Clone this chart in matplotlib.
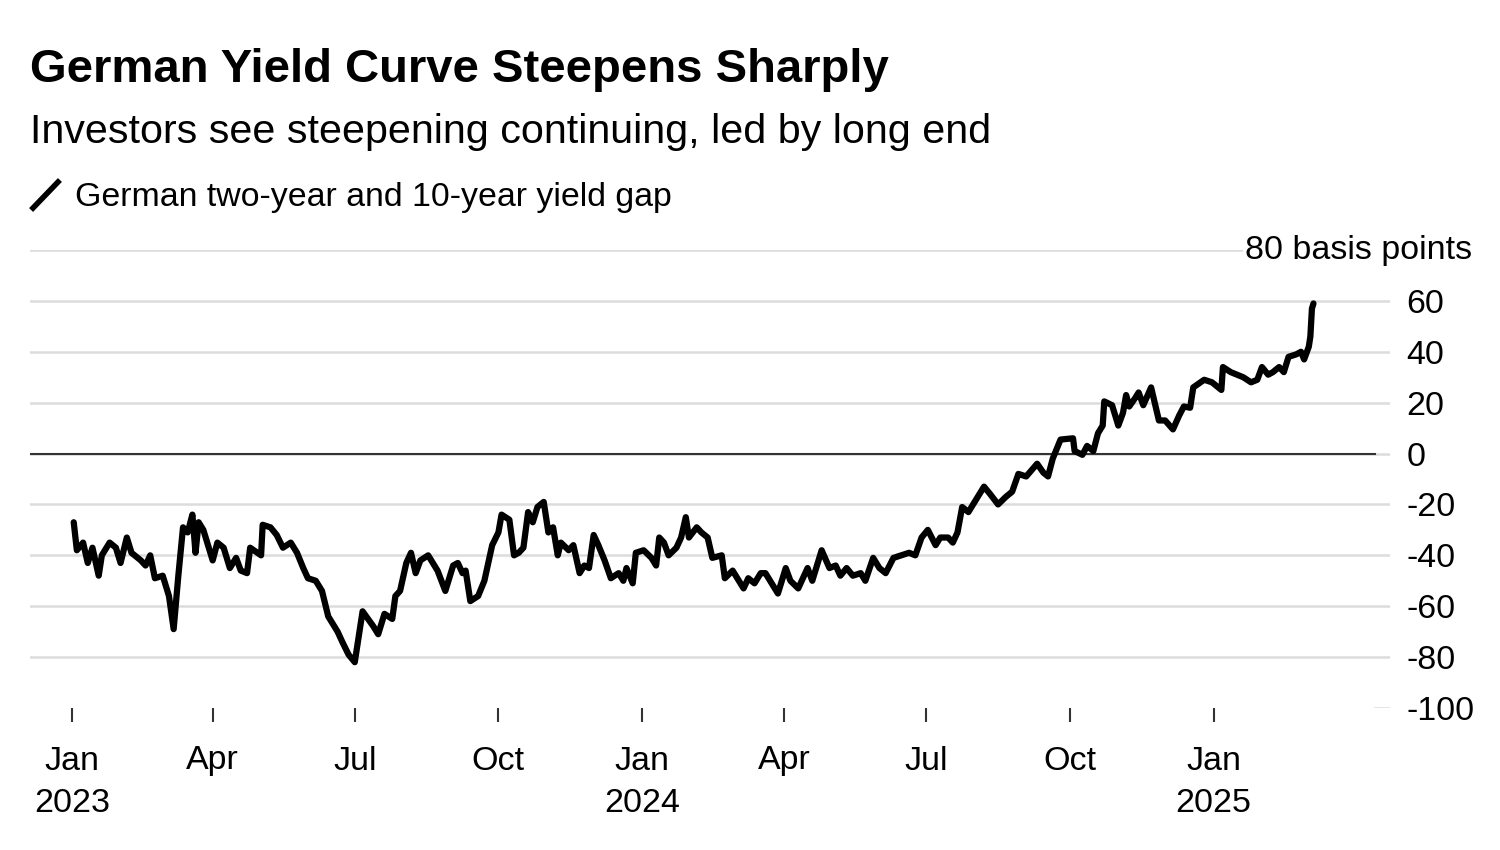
import pandas as pd
import matplotlib.pyplot as plt
from matplotlib.lines import Line2D

plt.rcParams['font.family'] = ['Liberation Sans', 'DejaVu Sans']

# German 2y/10y yield gap, basis points
dates = [
    "2023-01-02", "2023-01-04", "2023-01-08", "2023-01-11", "2023-01-14", "2023-01-18", "2023-01-20", "2023-01-25", "2023-01-29", "2023-02-01",
    "2023-02-05", "2023-02-08", "2023-02-14", "2023-02-17", "2023-02-20", "2023-02-23", "2023-02-28", "2023-03-04", "2023-03-07", "2023-03-10",
    "2023-03-13", "2023-03-16", "2023-03-19", "2023-03-21", "2023-03-23", "2023-03-26", "2023-04-01", "2023-04-04", "2023-04-08", "2023-04-12",
    "2023-04-16", "2023-04-19", "2023-04-23", "2023-04-25", "2023-05-02", "2023-05-03", "2023-05-08", "2023-05-12", "2023-05-16", "2023-05-21",
    "2023-05-25", "2023-05-29", "2023-06-01", "2023-06-06", "2023-06-10", "2023-06-14", "2023-06-20", "2023-06-23", "2023-06-27", "2023-07-01",
    "2023-07-06", "2023-07-13", "2023-07-16", "2023-07-20", "2023-07-25", "2023-07-27", "2023-07-30", "2023-08-03", "2023-08-06", "2023-08-09",
    "2023-08-12", "2023-08-17", "2023-08-23", "2023-08-28", "2023-09-02", "2023-09-05", "2023-09-08", "2023-09-10", "2023-09-13", "2023-09-18",
    "2023-09-22", "2023-09-27", "2023-10-01", "2023-10-03", "2023-10-08", "2023-10-11", "2023-10-14", "2023-10-17", "2023-10-20", "2023-10-23",
    "2023-10-26", "2023-10-30", "2023-11-02", "2023-11-05", "2023-11-08", "2023-11-10", "2023-11-15", "2023-11-18", "2023-11-22", "2023-11-25",
    "2023-11-28", "2023-12-01", "2023-12-04", "2023-12-08", "2023-12-12", "2023-12-17", "2023-12-20", "2023-12-22", "2023-12-26", "2023-12-28",
    "2024-01-02", "2024-01-07", "2024-01-10", "2024-01-12", "2024-01-15", "2024-01-18", "2024-01-23", "2024-01-26", "2024-01-29", "2024-01-31",
    "2024-02-05", "2024-02-08", "2024-02-12", "2024-02-15", "2024-02-21", "2024-02-23", "2024-02-28", "2024-03-02", "2024-03-06", "2024-03-09",
    "2024-03-13", "2024-03-17", "2024-03-20", "2024-03-24", "2024-03-28", "2024-04-02", "2024-04-05", "2024-04-10", "2024-04-16", "2024-04-19",
    "2024-04-25", "2024-04-30", "2024-05-04", "2024-05-07", "2024-05-11", "2024-05-15", "2024-05-20", "2024-05-23", "2024-05-28", "2024-06-01",
    "2024-06-05", "2024-06-10", "2024-06-15", "2024-06-20", "2024-06-24", "2024-06-28", "2024-07-02", "2024-07-07", "2024-07-10", "2024-07-15",
    "2024-07-18", "2024-07-21", "2024-07-24", "2024-07-28", "2024-08-02", "2024-08-07", "2024-08-11", "2024-08-16", "2024-08-21", "2024-08-25",
    "2024-08-29", "2024-09-03", "2024-09-10", "2024-09-14", "2024-09-17", "2024-09-20", "2024-09-25", "2024-10-03", "2024-10-04", "2024-10-09",
    "2024-10-12", "2024-10-16", "2024-10-19", "2024-10-22", "2024-10-23", "2024-10-28", "2024-11-01", "2024-11-04", "2024-11-06", "2024-11-08",
    "2024-11-12", "2024-11-14", "2024-11-17", "2024-11-22", "2024-11-27", "2024-12-01", "2024-12-06", "2024-12-10", "2024-12-13", "2024-12-17",
    "2024-12-19", "2024-12-26", "2024-12-31",
    "2025-01-06", "2025-01-07", "2025-01-12", "2025-01-16", "2025-01-20", "2025-01-25", "2025-01-29", "2025-02-01", "2025-02-05", "2025-02-08",
    "2025-02-12", "2025-02-15", "2025-02-18", "2025-02-23", "2025-02-26", "2025-02-28", "2025-03-03", "2025-03-04", "2025-03-05", "2025-03-06",
]
spread = [
    -27, -38, -35, -43, -37, -48, -40, -35, -37, -43,
    -33, -39, -42, -44, -40, -49, -48, -56, -69, -48,
    -29, -31, -24, -39, -27, -30, -42, -35, -37, -45,
    -41, -46, -47, -37, -40, -28, -29, -32, -37, -35,
    -39, -45, -49, -50, -54, -64, -70, -74, -79, -82,
    -62, -68, -71, -63, -65, -56, -54, -43, -39, -47,
    -42, -40, -46, -54, -44, -43, -47, -46, -58, -56,
    -50, -36, -31, -24, -26, -40, -39, -37, -23, -27,
    -21, -19, -31, -29, -40, -35, -38, -36, -47, -44,
    -45, -32, -36, -42, -49, -47, -50, -45, -51, -39,
    -38, -41, -44, -33, -35, -40, -37, -33, -25, -33,
    -29, -31, -33, -41, -40, -49, -46, -49, -53, -49,
    -51, -47, -47, -51, -55, -45, -50, -53, -45, -50,
    -38, -45, -44, -48, -45, -48, -47, -50, -41, -45,
    -47, -41, -40, -39, -40, -33, -30, -36, -33, -33,
    -35, -31, -21, -23, -18, -13, -16, -20, -17, -15,
    -8, -9, -4, -7.5, -9, -2, 5.5, 6, 1, -0.5,
    3, 1, 8, 11, 20.5, 19, 11, 16, 23, 18.5,
    22, 24, 19, 26, 13, 13, 9.5, 15, 18.5, 18,
    26, 29, 28,
    25, 34, 32, 31, 30, 28, 29, 34, 31, 32,
    34, 32, 38, 39, 40, 37, 42, 46, 57, 59,
]

tick_dates = ["2023-01-01", "2023-04-01", "2023-07-01", "2023-10-01", "2024-01-01",
              "2024-04-01", "2024-07-01", "2024-10-01", "2025-01-01"]
tick_labels = ["Jan\n2023", "Apr", "Jul", "Oct", "Jan\n2024", "Apr", "Jul", "Oct", "Jan\n2025"]
y_ticks = [-100, -80, -60, -40, -20, 0, 20, 40, 60]

df = pd.DataFrame({"date": pd.to_datetime(dates), "spread": spread})

fig = plt.figure(figsize=(15, 8.5), dpi=100)
ax = fig.add_axes([30/1500, 142/850, 1360/1500, 458/850])

# gridlines
for v in [-80, -60, -40, -20, 0, 20, 40, 60, 80]:
    ax.axhline(v, color='#dcdcdc', lw=1.8, zorder=1)
ax.axhline(-100, xmin=0.989, xmax=1, color='#dcdcdc', lw=1.8, zorder=1)
ax.axhline(0, xmin=0, xmax=0.989, color='#333333', lw=1.5, zorder=2)

ax.plot(df['date'], df['spread'], color='black', lw=4.5, solid_joinstyle='round',
        solid_capstyle='round', zorder=3)

ax.set_xlim(pd.Timestamp("2022-12-05"), pd.Timestamp("2025-04-24"))
ax.set_ylim(-100, 80)

ax.set_xticks(pd.to_datetime(tick_dates))
ax.set_xticklabels(tick_labels, fontsize=24.5, linespacing=1.5)
ax.tick_params(axis='x', length=10, width=1.5, color='#333333', pad=17)

ax.yaxis.tick_right()
ax.set_yticks(y_ticks)
ax.set_yticklabels([str(v) for v in y_ticks], fontsize=24.5)
ax.tick_params(axis='y', length=0, pad=12)

for s in ax.spines.values():
    s.set_visible(False)

ax.text(1.0606, 80, "80 basis points", transform=ax.get_yaxis_transform(),
        ha='right', va='center', fontsize=24.5, zorder=4,
        bbox=dict(facecolor='white', edgecolor='none', pad=2))

fig.text(30/1500, 1 - 82/850, "German Yield Curve Steepens Sharply",
         fontsize=34, fontweight='bold', va='baseline')
fig.text(30/1500, 1 - 143/850, "Investors see steepening continuing, led by long end",
         fontsize=29.7, va='baseline')
fig.text(75/1500, 1 - 206/850, "German two-year and 10-year yield gap",
         fontsize=24.4, va='baseline')
fig.add_artist(Line2D([33/1500, 58/1500], [1 - 208/850, 1 - 182/850],
                      transform=fig.transFigure, color='black', lw=4))

fig.savefig('out.png', dpi=100)
